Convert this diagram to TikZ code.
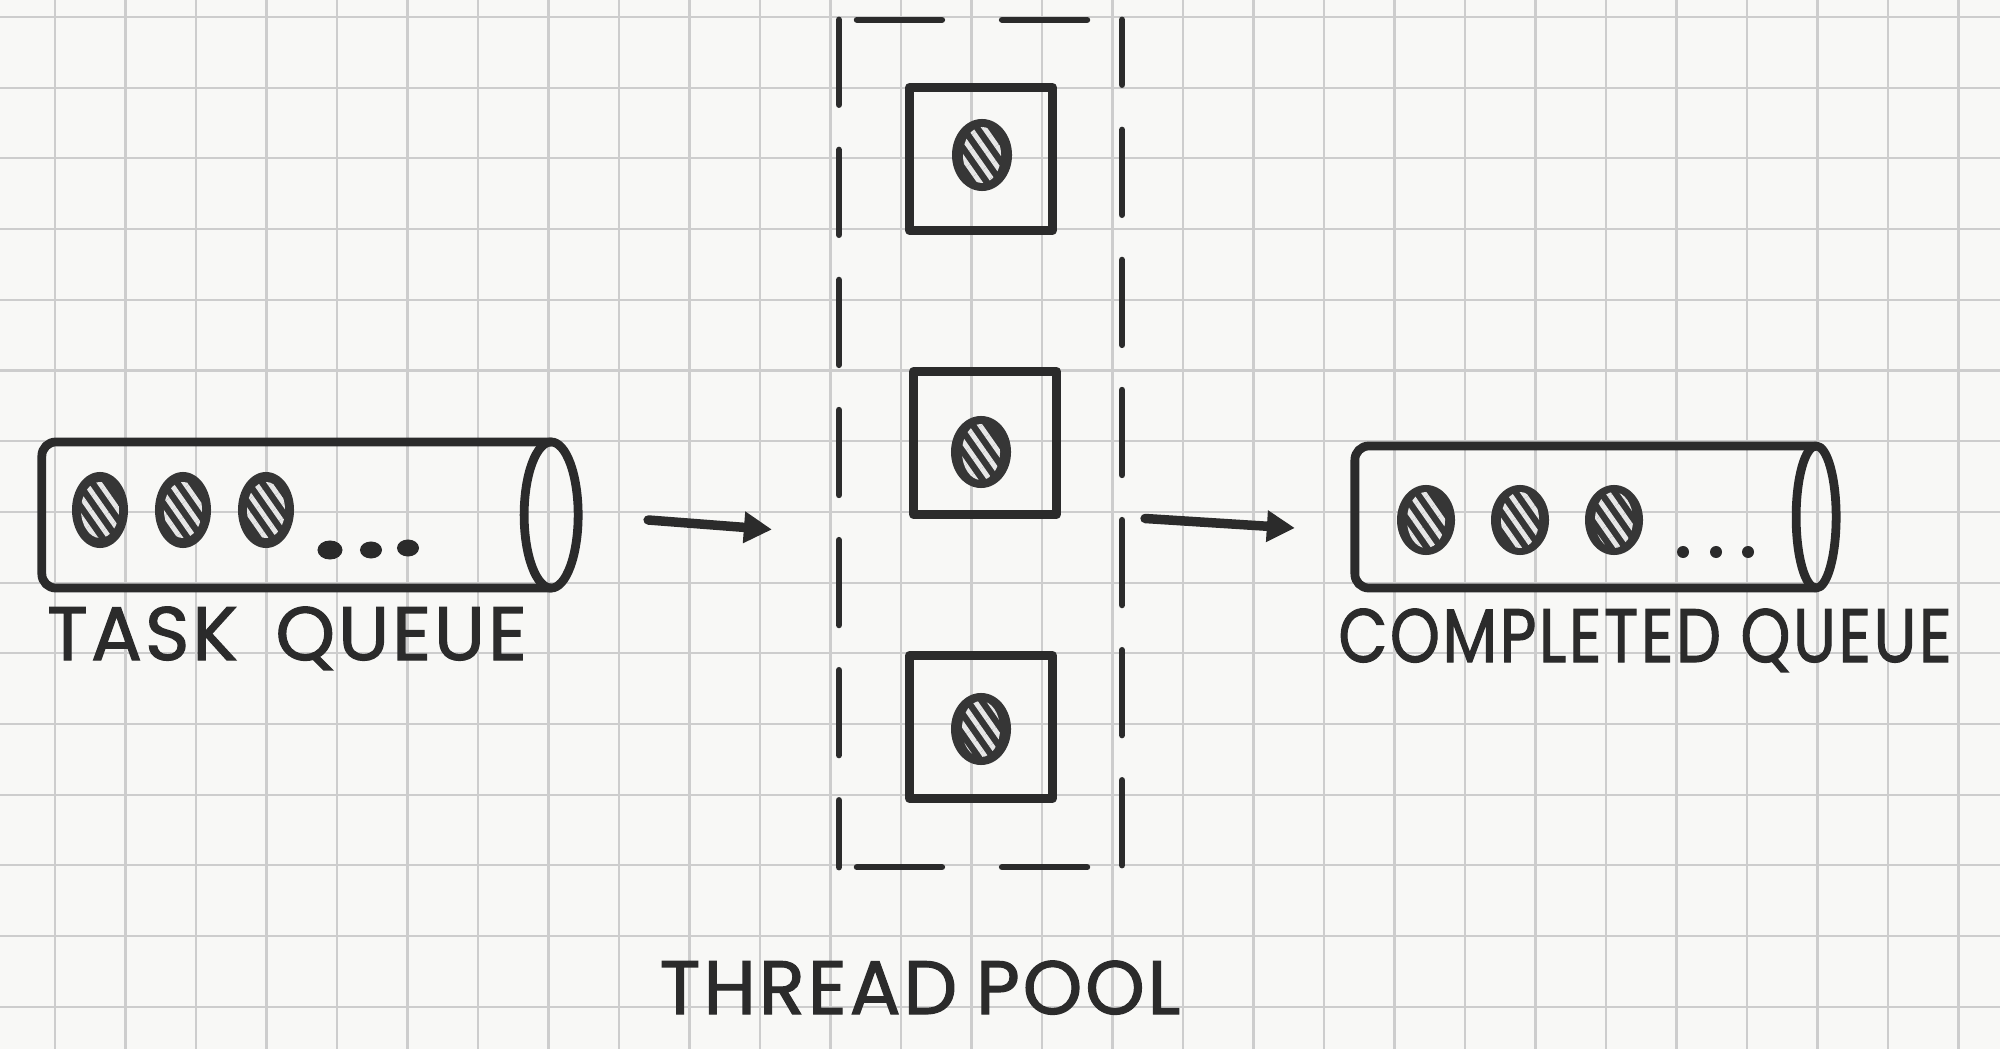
\documentclass[tikz,border=0pt]{standalone}
\usepackage{fontspec}
\setmainfont{Poppins}
\newfontfamily\handfont{Poppins}[FakeBold=1.6, LetterSpace=4]
\usetikzlibrary{shapes.geometric,arrows.meta,patterns.meta}

\definecolor{inkc}{HTML}{2B2B2B}
\definecolor{ballc}{HTML}{363636}
\definecolor{stripec}{HTML}{E6E6E6}
\definecolor{paperc}{HTML}{F8F8F6}
\definecolor{gridc}{HTML}{CDCDCD}

\begin{document}
\begin{tikzpicture}[
    x=0.01cm, y=-0.01cm,
    ink/.style={draw=inkc, line width=2.5pt, line cap=round, line join=round},
    queue/.style={rectangle, inner sep=0pt, outer sep=0pt},
    thread/.style={ink, rectangle, minimum size=1.43cm, inner sep=0pt},
    ball/.style={ellipse, fill=ballc, inner sep=0pt, minimum width=0.56cm, minimum height=0.76cm,
        path picture={\fill[pattern={Lines[angle=-55,distance=3.3pt,line width=1.4pt]}, pattern color=stripec]
            (path picture bounding box.center) ellipse [x radius=0.19cm, y radius=0.28cm];}},
    blob/.style={ellipse, fill=inkc, inner sep=0pt},
    pooldash/.style={draw=inkc, line width=1.8pt, line cap=round},
    gridline/.style={draw=gridc, line width=0.6pt},
    flow/.style={ink, line width=2.7pt, -{Triangle[length=0.28cm,width=0.3cm]}},
    note/.style={font=\handfont\fontsize{21.5}{24}\selectfont, text=inkc, anchor=base, inner sep=0pt}
]
% Paper
\fill[paperc] (0,0) rectangle (2000,1049);
\useasboundingbox (0,0) rectangle (2000,1049);
\foreach \k in {0,...,27} {
    \draw[gridline] ({55+70.5*\k},0) -- ++(0,1049);
}
\foreach \k in {0,...,14} {
    \draw[gridline] (0,{17+70.7*\k}) -- ++(2000,0);
}

% Task queue
\node[queue, minimum width=5.09cm, minimum height=1.46cm] (tq) at (296.5,515) {};
\draw[ink, rounded corners=0.14cm] (tq.north east) -- (tq.north west) -- (tq.south west) -- (tq.south east);
\draw[ink] (tq.east) ellipse [x radius=0.27cm, y radius=0.73cm];
\foreach \x [count=\i] in {100,183,266} {
    \node[ball] (t\i) at (\x,510) {};
}
\node[blob, minimum width=0.25cm, minimum height=0.19cm] (td1) at (330,550) {};
\node[blob, minimum width=0.22cm, minimum height=0.17cm] (td2) at (371,550) {};
\node[blob, minimum width=0.22cm, minimum height=0.17cm] (td3) at (408,548) {};

% Thread pool
\node[queue, minimum width=2.83cm, minimum height=8.47cm] (pool) at (980.5,443.5) {};
\draw[pooldash, dash pattern=on 0.85cm off 0.6cm, dash phase=1.27cm] (pool.north west) -- (pool.north east);
\draw[pooldash, dash pattern=on 0.85cm off 0.6cm, dash phase=1.27cm] (pool.south west) -- (pool.south east);
\draw[pooldash, dash pattern=on 0.85cm off 0.45cm] (pool.north west) -- (pool.south west);
\draw[pooldash, dash pattern=on 0.85cm off 0.45cm, dash phase=0.2cm] (pool.north east) -- (pool.south east);

\node[thread] (th1) at (981,159) {};
\node[thread] (th2) at (985,443) {};
\node[thread] (th3) at (981,727) {};
\node[ball, minimum width=0.6cm, minimum height=0.72cm] (w1) at (982,155) {};
\node[ball, minimum width=0.6cm, minimum height=0.72cm] (w2) at (981,452) {};
\node[ball, minimum width=0.6cm, minimum height=0.72cm] (w3) at (981,729) {};

% Completed queue
\node[queue, minimum width=4.61cm, minimum height=1.42cm] (cq) at (1585.5,517) {};
\draw[ink, rounded corners=0.14cm] (cq.north east) -- (cq.north west) -- (cq.south west) -- (cq.south east);
\draw[ink] (cq.east) ellipse [x radius=0.2cm, y radius=0.71cm];
\foreach \x [count=\i] in {1426,1520,1614} {
    \node[ball, minimum width=0.58cm, minimum height=0.7cm] (c\i) at (\x,520) {};
}
\foreach \x [count=\i] in {1683,1716,1748} {
    \node[blob, minimum size=0.12cm] (cd\i) at (\x,552) {};
}

% Connections
\draw[flow] ([shift={(97,5)}]tq.east) -- ([shift={(-67,86)}]pool.west);
\draw[flow] ([shift={(23,75)}]pool.east) -- ([shift={(-60,11)}]cq.west);

% Labels
\node[note] (tql) at (287,660) {TASK\hspace{0.5em}QUEUE};
\node[note, xscale=0.84] (cql) at (1645,662) {COMPLETED QUEUE};
\node[note] (tpl) at (920,1014) {THREAD\hspace{0.25em}POOL};
\end{tikzpicture}
\end{document}
